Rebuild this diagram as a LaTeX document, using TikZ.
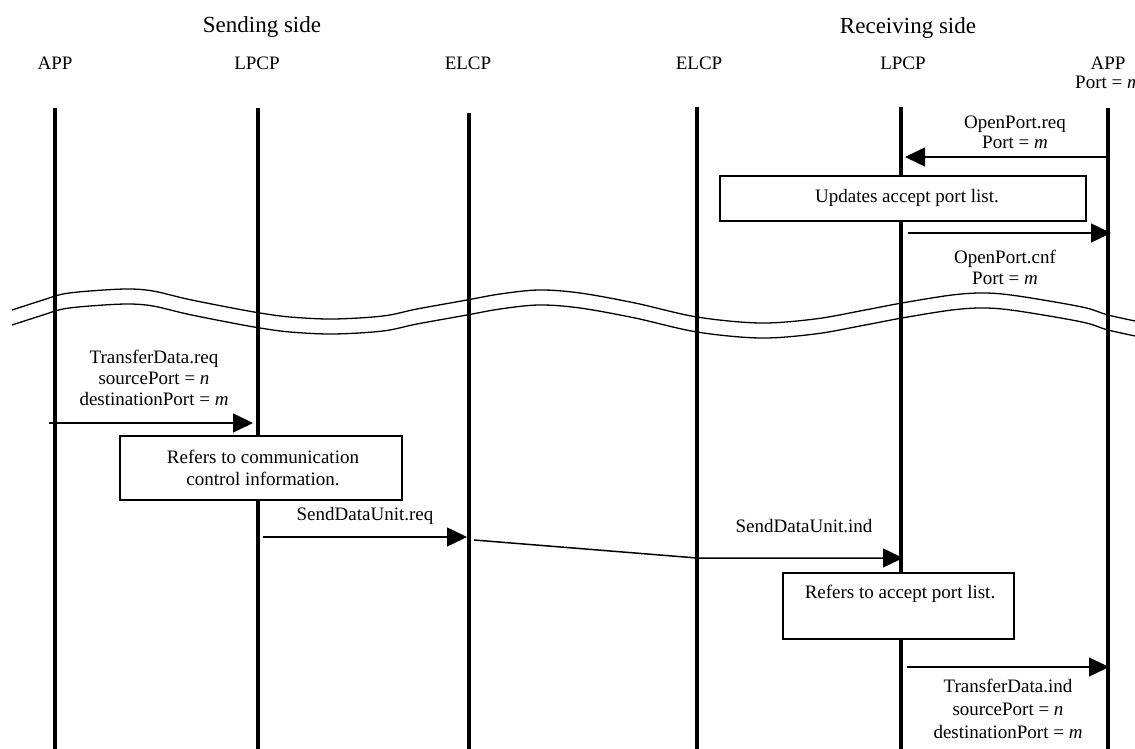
\documentclass[tikz,border=0pt]{standalone}
\usepackage{fontspec}
\setmainfont{Liberation Serif}
\usetikzlibrary{arrows.meta}
\begin{document}
\begin{tikzpicture}[x=1pt,y=-1pt,
  lifeline/.style={line width=3.8pt},
  msg/.style={line width=1.5pt,-{Triangle[length=20pt,width=19pt]}},
  procbox/.style={draw,line width=1.4pt,fill=white,inner sep=0pt},
  lbl/.style={font=\fontsize{19}{21}\selectfont,anchor=base,inner sep=0pt},
  hdr/.style={font=\fontsize{23}{26}\selectfont,anchor=base,inner sep=0pt},
  wave/.style={line width=1.3pt}]
\useasboundingbox (0,0) rectangle (1135,749);

% side titles and entity names
\node[hdr] (send) at (262,33) {Sending side};
\node[hdr] (recv) at (908,34) {Receiving side};
\node[lbl] (appS)  at (55,70)   {APP};
\node[lbl] (lpcpS) at (257,70)  {LPCP};
\node[lbl] (elcpS) at (468,70)  {ELCP};
\node[lbl] (elcpR) at (699,70)  {ELCP};
\node[lbl] (lpcpR) at (903,70)  {LPCP};
\node[lbl] (appR)  at (1108,70) {APP};
\node[lbl] (appRport) at (1108,89) {Port = \textit{m}};

% lifelines
\coordinate (tA) at (55,108);   \coordinate (bA) at (55,749);
\coordinate (tB) at (258,108);  \coordinate (bB) at (258,749);
\coordinate (tC) at (469,113);  \coordinate (bC) at (469,749);
\coordinate (tD) at (697,107);  \coordinate (bD) at (697,749);
\coordinate (tE) at (901,107);  \coordinate (bE) at (901,749);
\coordinate (tF) at (1108,108); \coordinate (bF) at (1108,749);
\foreach \s in {A,B,C,D,E,F} \draw[lifeline] (t\s) -- (b\s);

% time break
\def\breakpath{plot[smooth,tension=0.55] coordinates {
  (12,310) (43,300) (63,294) (90,291) (127,289) (153,291) (187,299)
  (227,307) (260,313) (290,317) (333,319) (383,316) (417,309) (467,300)
  (500,294) (539,290) (580,293) (635,303) (697,317) (760,323) (815,319)
  (860,311) (902,303) (952,295) (985,293) (1018,296) (1082,307)
  (1108,315) (1140,322)}}
\draw[wave] \breakpath;
\draw[wave,yshift=-15pt] \breakpath;

% processing boxes
\node[procbox,minimum width=366pt,minimum height=45pt] (bx1) at (903,198.5) {};
\node[lbl] (bx1t) at (907,202) {Updates accept port list.};
\node[procbox,minimum width=282pt,minimum height=64pt] (bx2) at (261,468) {};
\node[lbl] (bx2t1) at (263,463) {Refers to communication};
\node[lbl] (bx2t2) at (263,485) {control information.};
\node[procbox,minimum width=231pt,minimum height=66pt] (bx3) at (898.5,606) {};
\node[lbl] (bx3t) at (900,598) {Refers to accept port list.};

% messages
\coordinate (m1a) at (1108,157); \coordinate (m1b) at (905,157);
\draw[msg] (m1a) -- (m1b);
\node[lbl] (m1l1) at (1015,129) {OpenPort.req};
\node[lbl] (m1l2) at (1015,149) {Port = \textit{m}};

\coordinate (m2a) at (908,233); \coordinate (m2b) at (1111,233);
\draw[msg] (m2a) -- (m2b);
\node[lbl] (m2l1) at (1005,263) {OpenPort.cnf};
\node[lbl] (m2l2) at (1005,284) {Port = \textit{m}};

\coordinate (m3a) at (49,423); \coordinate (m3b) at (253,423);
\draw[msg] (m3a) -- (m3b);
\node[lbl] (m3l1) at (154,363) {TransferData.req};
\node[lbl] (m3l2) at (154,384) {sourcePort = \textit{n}};
\node[lbl] (m3l3) at (154,405) {destinationPort = \textit{m}};

\coordinate (m4a) at (263,537); \coordinate (m4b) at (467,537);
\draw[msg] (m4a) -- (m4b);
\node[lbl] (m4l) at (365,520) {SendDataUnit.req};

\coordinate (m5a) at (474,540); \coordinate (m5k) at (697,558); \coordinate (m5b) at (903,558);
\draw[msg] (m5a) -- (m5k) -- (m5b);
\node[lbl] (m5l) at (804,532) {SendDataUnit.ind};

\coordinate (m6a) at (907,667); \coordinate (m6b) at (1109,667);
\draw[msg] (m6a) -- (m6b);
\node[lbl] (m6l1) at (1008,692) {TransferData.ind};
\node[lbl] (m6l2) at (1008,715) {sourcePort = \textit{n}};
\node[lbl] (m6l3) at (1008,738) {destinationPort = \textit{m}};
\end{tikzpicture}
\end{document}
